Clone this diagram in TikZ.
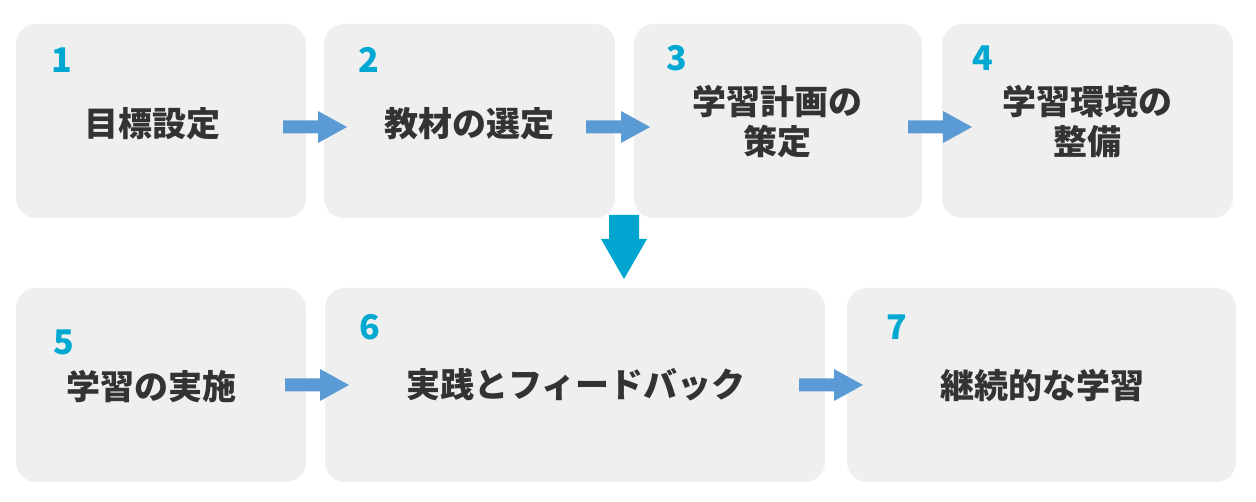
\documentclass[tikz,border=0pt]{standalone}
\usepackage{fontspec}
\setmainfont{Noto Sans CJK JP}
\definecolor{boxfill}{HTML}{EFEFEF}
\definecolor{txt}{HTML}{333333}
\definecolor{numc}{HTML}{00A8D2}
\definecolor{arrc}{HTML}{5B9BD5}
\definecolor{downc}{HTML}{00A6D0}
\tikzset{
  stepbox/.style={fill=boxfill, rounded corners=20pt, draw=none},
  numlbl/.style={text=numc, font=\bfseries\fontsize{34}{40}\selectfont, inner sep=0pt, anchor=center},
  mainlbl/.style={text=txt, font=\bfseries\fontsize{34}{40}\selectfont, inner sep=0pt, align=center, anchor=center},
  rarrow/.style={fill=arrc, draw=none},
  darrow/.style={fill=downc, draw=none}
}
% block arrow to the right: start point, length 64
\newcommand{\blockarrowR}[1]{%
  \fill[rarrow] (#1) ++(0,-6.5) -- ++(35,0) -- ++(0,-9.5) -- ++(29,16) -- ++(-29,16) -- ++(0,-9.5) -- ++(-35,0) -- cycle;}
\begin{document}
\begin{tikzpicture}[x=1pt,y=-1pt]
\useasboundingbox (0,0) rectangle (1256,502);
% boxes
\path[stepbox] (16,24) rectangle (306,218);
\path[stepbox] (324,24) rectangle (615,218);
\path[stepbox] (634,24) rectangle (922,218);
\path[stepbox] (942,24) rectangle (1233,218);
\path[stepbox] (16,288) rectangle (306,482);
\path[stepbox] (325,288) rectangle (825,482);
\path[stepbox] (847,288) rectangle (1236,482);
% numbers
\node[numlbl] (n1) at (62,60) {1};
\node[numlbl] (n2) at (369,60) {2};
\node[numlbl] (n3) at (677,58) {3};
\node[numlbl] (n4) at (983,58) {4};
\node[numlbl] (n5) at (64,342) {5};
\node[numlbl] (n6) at (370,327) {6};
\node[numlbl] (n7) at (897,327) {7};
% labels
\node[mainlbl] (t1) at (152,124) {目標設定};
\node[mainlbl] (t2) at (469,124) {教材の選定};
\node[mainlbl] (t3) at (777,122) {学習計画の\\策定};
\node[mainlbl] (t4) at (1087,122) {学習環境の\\整備};
\node[mainlbl] (t5) at (151,387) {学習の実施};
\node[mainlbl] (t6) at (576,385) {実践とフィードバック};
\node[mainlbl] (t7) at (1042,386) {継続的な学習};
% arrows
\coordinate (a12) at (283,127);
\coordinate (a23) at (586,127);
\coordinate (a34) at (908,127);
\coordinate (a56) at (285,385);
\coordinate (a67) at (799,385);
\blockarrowR{a12}
\blockarrowR{a23}
\blockarrowR{a34}
\blockarrowR{a56}
\blockarrowR{a67}
\coordinate (d) at (624,215);
\fill[darrow] (d) ++(-15,0) -- ++(30,0) -- ++(0,24) -- ++(8,0) -- ++(-23,40) -- ++(-23,-40) -- ++(8,0) -- cycle;
\end{tikzpicture}
\end{document}
